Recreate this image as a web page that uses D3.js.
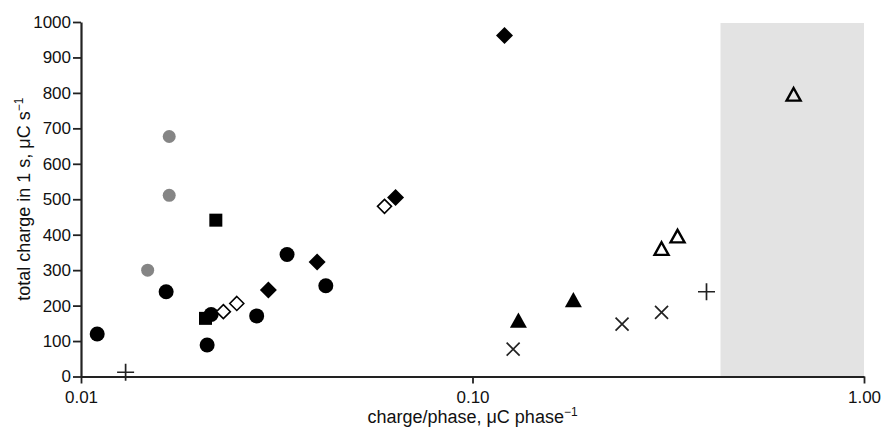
<!DOCTYPE html>
<html lang="en">
<head>
    <meta charset="UTF-8">
    <title>charge per phase</title>
    <style>
        body { margin: 0; background: #fff; }
        text { font-family: "Liberation Sans", Arial, sans-serif; fill: #111; }
    </style>
</head>
<body>
    <div class="container"></div>
    <script src="https://cdn.jsdelivr.net/npm/d3@7"></script>
    <script>
        // Data (x = charge/phase, y = total charge in 1 s)
        const blackCircleX = [0.0110, 0.0165, 0.0215, 0.0210, 0.0281, 0.0336, 0.0422]
        const blackCircleY = [120, 239, 175, 89, 171, 344, 256]
        const grayCircleX = [0.0148, 0.0168, 0.0168]
        const grayCircleY = [300, 511, 677]
        const squareX = [0.0208, 0.0221]
        const squareY = [164, 441]
        const openDiamondX = [0.0231, 0.0250, 0.0596]
        const openDiamondY = [183, 206, 480]
        const blackDiamondX = [0.0301, 0.0401, 0.0636, 0.1207]
        const blackDiamondY = [244, 323, 505, 962]
        const blackTriangleX = [0.131, 0.181]
        const blackTriangleY = [159, 217]
        const openTriangleX = [0.304, 0.334, 0.661]
        const openTriangleY = [361, 396, 796]
        const timesX = [0.127, 0.241, 0.304]
        const timesY = [77, 148, 181]
        const plusX = [0.0130, 0.396]
        const plusY = [12, 239]

        const xTicks = [0.01, 0.1, 1]
        const yTicks = [0, 100, 200, 300, 400, 500, 600, 700, 800, 900, 1000]
        const shadedRange = [0.43, 1]

        // Setup
        const width = 882
        const height = 435
        const margin = {top: 22, right: 18, bottom: 58.5, left: 81}
        const chartWidth = width - margin.left - margin.right
        const chartHeight = height - margin.top - margin.bottom

        const svg = d3.select('.container')
                    .append("svg")
                    .attr("width", width)
                    .attr("height", height)

        const chart = svg.append("g")
                        .attr("transform", `translate(${margin.left},${margin.top})`)

        const xScale = d3.scaleLog().domain([0.01, 1]).range([0, chartWidth])
        const yScale = d3.scaleLinear().domain([0, 1000]).range([chartHeight, 0])

        // shaded region
        chart.append("rect")
            .attr("x", xScale(shadedRange[0]))
            .attr("y", yScale(1000) + 1)
            .attr("width", xScale(shadedRange[1]) - xScale(shadedRange[0]))
            .attr("height", yScale(0) - yScale(1000) - 1)
            .attr("fill", "#e3e3e3")

        // custom symbols, size = half-width squared
        const diamond = {draw(ctx, size) {
            const r = Math.sqrt(size)
            ctx.moveTo(0, -r); ctx.lineTo(r, 0); ctx.lineTo(0, r); ctx.lineTo(-r, 0); ctx.closePath()
        }}
        const square = {draw(ctx, size) {
            const r = Math.sqrt(size)
            ctx.rect(-r, -r, 2 * r, 2 * r)
        }}
        const triangle = {draw(ctx, size) {
            const r = Math.sqrt(size)
            const h = r * 0.9
            ctx.moveTo(0, -h); ctx.lineTo(r, h); ctx.lineTo(-r, h); ctx.closePath()
        }}
        const plus = {draw(ctx, size) {
            const r = Math.sqrt(size)
            ctx.moveTo(-r, 0); ctx.lineTo(r, 0); ctx.moveTo(0, -r); ctx.lineTo(0, r)
        }}
        const times = {draw(ctx, size) {
            const r = Math.sqrt(size)
            ctx.moveTo(-r, -r); ctx.lineTo(r, r); ctx.moveTo(-r, r); ctx.lineTo(r, -r)
        }}
        const circle = {draw(ctx, size) {
            const r = Math.sqrt(size)
            ctx.moveTo(r, 0); ctx.arc(0, 0, r, 0, 2 * Math.PI)
        }}

        const series = [
            {xs: blackCircleX, ys: blackCircleY, type: circle, r: 7.5, fill: "#000", stroke: "none", sw: 0},
            {xs: grayCircleX, ys: grayCircleY, type: circle, r: 6.5, fill: "#858585", stroke: "none", sw: 0},
            {xs: squareX, ys: squareY, type: square, r: 6.5, fill: "#000", stroke: "none", sw: 0},
            {xs: openDiamondX, ys: openDiamondY, type: diamond, r: 7, fill: "#fff", stroke: "#000", sw: 1.6},
            {xs: blackDiamondX, ys: blackDiamondY, type: diamond, r: 8.5, fill: "#000", stroke: "none", sw: 0},
            {xs: blackTriangleX, ys: blackTriangleY, type: triangle, r: 8.5, fill: "#000", stroke: "none", sw: 0},
            {xs: openTriangleX, ys: openTriangleY, type: triangle, r: 7, fill: "none", stroke: "#000", sw: 2.4},
            {xs: timesX, ys: timesY, type: times, r: 6.5, fill: "none", stroke: "#222", sw: 1.7},
            {xs: plusX, ys: plusY, type: plus, r: 8.5, fill: "none", stroke: "#222", sw: 1.7}
        ]

        series.forEach(s => {
            const pts = s.xs.map((x, i) => ({x: x, y: s.ys[i]}))
            chart.append("g")
                .selectAll("path")
                .data(pts)
                .join("path")
                .attr("transform", d => `translate(${xScale(d.x)},${yScale(d.y)})`)
                .attr("d", d3.symbol().type(s.type).size(s.r * s.r))
                .attr("fill", s.fill)
                .attr("stroke", s.stroke)
                .attr("stroke-width", s.sw)
                .attr("stroke-linejoin", "miter")
        })

        // Axes
        const bottomAxis = d3.axisBottom(xScale)
                            .tickValues(xTicks)
                            .tickFormat(d3.format(".2f"))
                            .tickSize(7)
                            .tickSizeOuter(0)
                            .tickPadding(7)
        const leftAxis = d3.axisLeft(yScale)
                            .tickValues(yTicks)
                            .tickFormat(d3.format("d"))
                            .tickSize(8)
                            .tickSizeOuter(0)
                            .tickPadding(2)

        const bottomAxisGroup = chart.append("g")
                                .attr("transform", `translate(0,${chartHeight})`)
                                .call(bottomAxis)
        const leftAxisGroup = chart.append("g").call(leftAxis)

        svg.selectAll(".domain").attr("stroke", "#222").attr("stroke-width", 2.2)
        svg.selectAll(".tick line").attr("stroke", "#222").attr("stroke-width", 1.8)
        bottomAxisGroup.attr("font-size", 17).attr("font-family", '"Liberation Sans", Arial, sans-serif')
        leftAxisGroup.attr("font-size", 17).attr("font-family", '"Liberation Sans", Arial, sans-serif')
        svg.selectAll(".tick text").attr("fill", "#111")

        // Axis titles
        const xTitle = svg.append("text")
            .attr("x", margin.left + chartWidth / 2)
            .attr("y", 423)
            .attr("text-anchor", "middle")
            .style("font-size", "18px")
        xTitle.append("tspan").text("charge/phase, μC phase")
        xTitle.append("tspan").attr("dy", -7).style("font-size", "12px").text("−1")

        const yTitle = svg.append("text")
            .attr("transform", `translate(30,${margin.top + chartHeight / 2}) rotate(-90)`)
            .attr("text-anchor", "middle")
            .style("font-size", "18px")
        yTitle.append("tspan").text("total charge in 1 s, μC s")
        yTitle.append("tspan").attr("dy", -7).style("font-size", "12px").text("−1")
    </script>
</body>
</html>
